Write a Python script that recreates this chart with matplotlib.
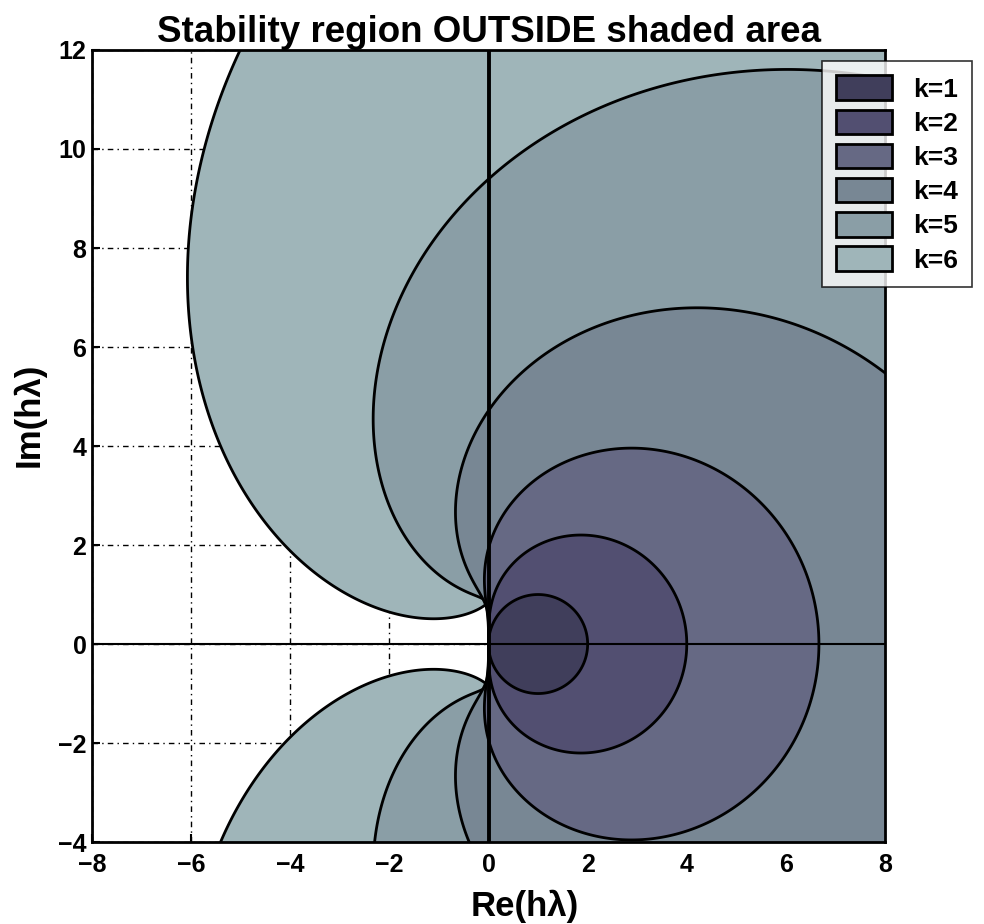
import numpy as np
import matplotlib
matplotlib.use("Agg")
import matplotlib.pyplot as plt

plt.rcParams['font.family'] = ['Liberation Sans', 'DejaVu Sans']
plt.rcParams['font.weight'] = 'bold'

# BDF method coefficients: h*lambda = sum_j alpha_j * zeta^(-j), zeta = exp(i*theta)
orders = [1, 2, 3, 4, 5, 6]
alpha_k1 = [1.0, -1.0]
alpha_k2 = [3/2, -2.0, 1/2]
alpha_k3 = [11/6, -3.0, 3/2, -1/3]
alpha_k4 = [25/12, -4.0, 3.0, -4/3, 1/4]
alpha_k5 = [137/60, -5.0, 5.0, -10/3, 5/4, -1/5]
alpha_k6 = [147/60, -6.0, 15/2, -20/3, 15/4, -6/5, 1/6]
alphas = [alpha_k1, alpha_k2, alpha_k3, alpha_k4, alpha_k5, alpha_k6]
labels = ['k=1', 'k=2', 'k=3', 'k=4', 'k=5', 'k=6']
colors = ['#403e5b', '#524f71', '#666984', '#788794', '#8a9ea6', '#9fb5b9']

xticks = [-8, -6, -4, -2, 0, 2, 4, 6, 8]
yticks = [-4, -2, 0, 2, 4, 6, 8, 10, 12]

fig = plt.figure(figsize=(9.84, 9.24), dpi=100)
ax = fig.add_axes([0.0935, 0.0887, 0.8059, 0.8572])

theta = np.linspace(0, 2 * np.pi, 2001)
zinv = np.exp(-1j * theta)
handles = []
for k in reversed(orders):
    a = alphas[k - 1]
    z = sum(c * zinv ** j for j, c in enumerate(a))
    h = ax.fill(z.real, z.imag, facecolor=colors[k - 1], edgecolor='black',
                linewidth=2, zorder=2, label=labels[k - 1])[0]
    handles.append(h)

ax.axvline(0, color='black', linewidth=2.8, zorder=4)
ax.axhline(0, color='black', linewidth=1.5, zorder=4)

ax.set_xlim(-8, 8)
ax.set_ylim(-4, 12)
ax.set_xticks(xticks)
ax.set_yticks(yticks)
ax.set_xticklabels([str(t).replace('-', '\u2212') for t in xticks])
ax.set_yticklabels([str(t).replace('-', '\u2212') for t in yticks])
ax.grid(True, color='black', linestyle=(0, (4, 3, 1, 3)), linewidth=1, zorder=0)
ax.set_axisbelow(True)
ax.tick_params(axis='x', labelsize=18, width=1.5, length=6, direction='in', pad=8)
ax.tick_params(axis='y', labelsize=18, width=1.5, length=6, direction='in', pad=4)
for lab in ax.get_xticklabels() + ax.get_yticklabels():
    lab.set_fontweight('bold')
for s in ax.spines.values():
    s.set_linewidth(2)
    s.set_zorder(5)

ax.set_title('Stability region OUTSIDE shaded area', fontsize=26.5, fontweight='bold', pad=5)
ax.set_xlabel('Re(h\u03bb)', fontsize=25, fontweight='bold')
ax.set_ylabel('Im(h\u03bb)', fontsize=25, fontweight='bold')
ax.xaxis.set_label_coords(0.546, -0.060)
ax.yaxis.set_label_coords(-0.058, 0.539)

handles = handles[::-1]
leg = fig.legend(handles, labels, loc='upper left', bbox_to_anchor=(0.835, 0.934),
                 fontsize=19, frameon=True, fancybox=False, edgecolor='black',
                 handlelength=2.1, handleheight=1.05, labelspacing=0.3,
                 borderpad=0.55, handletextpad=0.8, borderaxespad=0)
leg.get_frame().set_linewidth(1.2)
for t in leg.get_texts():
    t.set_fontweight('bold')

fig.savefig('out.png', dpi=100)
